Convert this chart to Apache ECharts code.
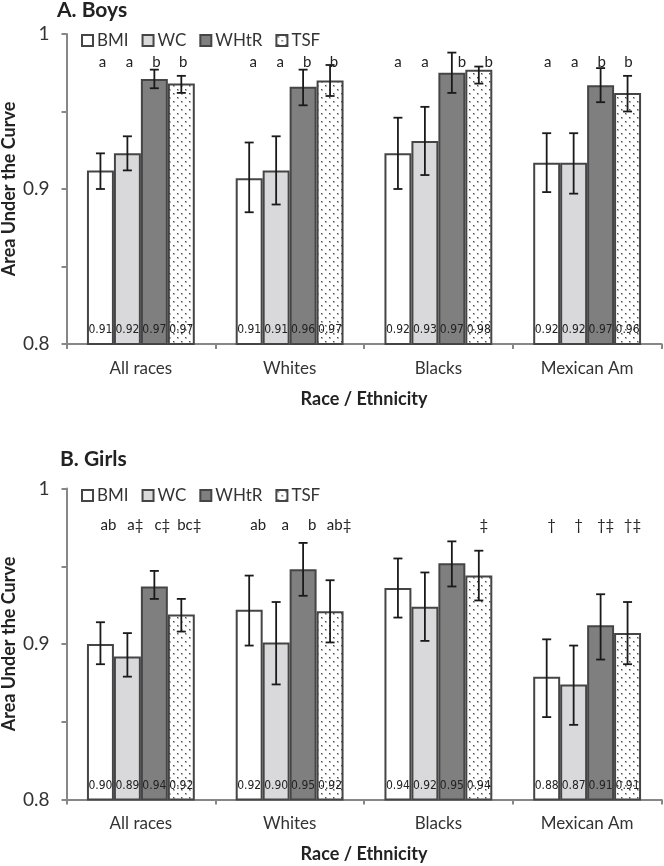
<!DOCTYPE html>
<html><head><meta charset="utf-8">
<script src="https://cdn.jsdelivr.net/npm/echarts@6/dist/echarts.min.js"></script>
<style>html,body{margin:0;padding:0;background:#fff}#c{width:664px;height:866px}</style>
</head><body><div id="c"></div>
<script>
// ---------- DATA ----------
const categories = ['All races', 'Whites', 'Blacks', 'Mexican Am'];
const measures = ['BMI', 'WC', 'WHtR', 'TSF'];
const yTickLabels = ['0.8', '0.9', '1'];

// A. Boys
const boysBMI  = [0.912, 0.907, 0.923, 0.917];
const boysWC   = [0.923, 0.912, 0.931, 0.917];
const boysWHtR = [0.971, 0.966, 0.975, 0.967];
const boysTSF  = [0.968, 0.970, 0.977, 0.962];
const boysBMILow  = [0.900, 0.885, 0.900, 0.898];
const boysBMIHigh = [0.923, 0.930, 0.946, 0.936];
const boysWCLow   = [0.912, 0.890, 0.909, 0.897];
const boysWCHigh  = [0.934, 0.934, 0.953, 0.936];
const boysWHtRLow  = [0.965, 0.954, 0.962, 0.956];
const boysWHtRHigh = [0.977, 0.977, 0.988, 0.978];
const boysTSFLow  = [0.962, 0.960, 0.968, 0.950];
const boysTSFHigh = [0.973, 0.980, 0.979, 0.973];
const boysBMILabels  = ['0.91', '0.91', '0.92', '0.92'];
const boysWCLabels   = ['0.92', '0.91', '0.93', '0.92'];
const boysWHtRLabels = ['0.97', '0.96', '0.97', '0.97'];
const boysTSFLabels  = ['0.97', '0.97', '0.98', '0.96'];
const boysBMILetters  = ['a', 'a', 'a', 'a'];
const boysWCLetters   = ['a', 'a', 'a', 'a'];
const boysWHtRLetters = ['b', 'b', 'b', 'b'];
const boysTSFLetters  = ['b', 'b', 'b', 'b'];

// B. Girls
const girlsBMI  = [0.900, 0.922, 0.936, 0.879];
const girlsWC   = [0.892, 0.901, 0.924, 0.874];
const girlsWHtR = [0.937, 0.948, 0.952, 0.912];
const girlsTSF  = [0.919, 0.921, 0.944, 0.907];
const girlsBMILow  = [0.887, 0.899, 0.917, 0.853];
const girlsBMIHigh = [0.914, 0.944, 0.955, 0.903];
const girlsWCLow   = [0.879, 0.874, 0.902, 0.848];
const girlsWCHigh  = [0.907, 0.927, 0.946, 0.899];
const girlsWHtRLow  = [0.929, 0.931, 0.937, 0.890];
const girlsWHtRHigh = [0.947, 0.965, 0.966, 0.932];
const girlsTSFLow  = [0.908, 0.901, 0.928, 0.887];
const girlsTSFHigh = [0.929, 0.941, 0.960, 0.927];
const girlsBMILabels  = ['0.90', '0.92', '0.94', '0.88'];
const girlsWCLabels   = ['0.89', '0.90', '0.92', '0.87'];
const girlsWHtRLabels = ['0.94', '0.95', '0.95', '0.91'];
const girlsTSFLabels  = ['0.92', '0.92', '0.94', '0.91'];
const girlsBMILetters  = ['ab', 'ab', '', '\u2020'];
const girlsWCLetters   = ['a\u2021', 'a', '', '\u2020'];
const girlsWHtRLetters = ['c\u2021', 'b', '', '\u2020\u2021'];
const girlsTSFLetters  = ['bc\u2021', 'ab\u2021', '\u2021', '\u2020\u2021'];

// ---------- STYLE ----------
const FONT = 'Lato, "Open Sans", sans-serif';
const NARROW = '"Liberation Sans Narrow", "DejaVu Sans Condensed", sans-serif';
const AXIS = '#878787';
const BORDER = '#454545';
const GAP = 0.275;

const pc = document.createElement('canvas');
pc.width = 8; pc.height = 8;
const ctx = pc.getContext('2d');
ctx.fillStyle = '#ffffff'; ctx.fillRect(0, 0, 8, 8);
[[1, 1], [5, 5]].forEach(([x, y]) => {
  ctx.fillStyle = '#b5b5b5'; ctx.fillRect(x, y, 2, 2);
  ctx.fillStyle = '#4a4a4a'; ctx.fillRect(x, y, 1, 1);
});
const dotPattern = { image: pc, repeat: 'repeat' };
const fills = ['#ffffff', '#d9d9db', '#7f7f7f', dotPattern];

const panels = [
  {
    values: [boysBMI, boysWC, boysWHtR, boysTSF],
    lows: [boysBMILow, boysWCLow, boysWHtRLow, boysTSFLow],
    highs: [boysBMIHigh, boysWCHigh, boysWHtRHigh, boysTSFHigh],
    labels: [boysBMILabels, boysWCLabels, boysWHtRLabels, boysTSFLabels],
    letters: [boysBMILetters, boysWCLetters, boysWHtRLetters, boysTSFLetters],
    letterLevel: 0.982,
    shift: (c, j) => (c === 2 && j >= 2) ? 10 : [2, 4, 0, 1][c]
  },
  {
    values: [girlsBMI, girlsWC, girlsWHtR, girlsTSF],
    lows: [girlsBMILow, girlsWCLow, girlsWHtRLow, girlsTSFLow],
    highs: [girlsBMIHigh, girlsWCHigh, girlsWHtRHigh, girlsTSFHigh],
    labels: [girlsBMILabels, girlsWCLabels, girlsWHtRLabels, girlsTSFLabels],
    letters: [girlsBMILetters, girlsWCLetters, girlsWHtRLetters, girlsTSFLetters],
    letterLevel: 0.9765,
    shift: (c, j) => [8, 9, 5, 5][c]
  }
];

const grids = [
  { left: 66.5, right: 2.5, top: 34, height: 310, containLabel: false, outerBoundsMode: 'none' },
  { left: 66.5, right: 2.5, top: 488.5, height: 311, containLabel: false, outerBoundsMode: 'none' }
];

const xAxes = [], yAxes = [], series = [], legends = [];
panels.forEach((p, g) => {
  xAxes.push({
    type: 'category', gridIndex: g, data: categories,
    axisLine: { lineStyle: { color: AXIS, width: 2 } },
    axisTick: { show: true, length: 5, lineStyle: { color: AXIS, width: 2 } },
    axisLabel: { fontFamily: FONT, fontSize: 17, color: '#333', margin: 16 },
    name: 'Race / Ethnicity', nameLocation: 'middle', nameGap: 46, nameMoveOverlap: false,
    nameTextStyle: { fontFamily: FONT, fontSize: 18, fontWeight: 'bold', color: '#222' }
  });
  yAxes.push({
    type: 'value', gridIndex: g, min: 0.8, max: 1, interval: 0.05,
    axisLine: { show: true, lineStyle: { color: AXIS, width: 2 } },
    axisTick: { show: true, length: 5, lineStyle: { color: AXIS, width: 2 } },
    splitLine: { show: false },
    axisLabel: {
      fontFamily: FONT, fontSize: 19, color: '#333', margin: 17,
      formatter: v => {
        const k = Math.round((v - 0.8) * 20);
        return k % 2 === 0 ? yTickLabels[k / 2] : '';
      }
    },
    name: 'Area Under the Curve', nameLocation: 'middle', nameGap: 48, nameMoveOverlap: false,
    nameTextStyle: { fontFamily: FONT, fontSize: 18, fontWeight: 'bold', color: '#222' }
  });
  measures.forEach((m, j) => {
    series.push({
      type: 'bar', name: m, xAxisIndex: g, yAxisIndex: g,
      data: p.values[j], barGap: 0, barCategoryGap: (GAP * 100) + '%',
      itemStyle: { color: fills[j], borderColor: BORDER, borderWidth: 2 },
      label: {
        show: true, position: 'insideBottom', distance: 9,
        fontFamily: NARROW, fontSize: 12, color: '#222',
        formatter: q => p.labels[j][q.dataIndex]
      },
      emphasis: { disabled: true }
    });
  });
  const errData = [];
  categories.forEach((c, ci) => measures.forEach((m, j) => {
    errData.push([ci, j, p.lows[j][ci], p.highs[j][ci]]);
  }));
  series.push({
    type: 'custom', xAxisIndex: g, yAxisIndex: g, z: 10,
    data: errData, encode: { x: 0, y: [2, 3] },
    renderItem: (params, api) => {
      const ci = api.value(0), j = api.value(1), lo = api.value(2), hi = api.value(3);
      const band = api.size([1, 0])[0];
      const bw = band * (1 - GAP) / 4;
      const base = api.coord([ci, lo]);
      const cx = base[0] - band * (1 - GAP) / 2 + bw * (j + 0.5);
      const yl = base[1], yh = api.coord([ci, hi])[1];
      const cap = 4.5;
      const st = { stroke: '#1a1a1a', lineWidth: 1.8 };
      const children = [
        { type: 'line', shape: { x1: cx, y1: yl, x2: cx, y2: yh }, style: st },
        { type: 'line', shape: { x1: cx - cap, y1: yl, x2: cx + cap, y2: yl }, style: st },
        { type: 'line', shape: { x1: cx - cap, y1: yh, x2: cx + cap, y2: yh }, style: st }
      ];
      const t = p.letters[j][ci];
      if (t) {
        children.push({
          type: 'text',
          style: {
            text: t, x: cx + p.shift(ci, j), y: api.coord([ci, p.letterLevel])[1],
            align: 'center', verticalAlign: 'middle',
            fontFamily: FONT, fontSize: 15, fill: '#222'
          }
        });
      }
      return { type: 'group', children };
    }
  });
  legends.push({
    data: measures, left: 81, top: g === 0 ? 32 : 487, padding: 0,
    itemWidth: 11, itemHeight: 11, itemGap: 13, icon: 'rect',
    textStyle: { fontFamily: FONT, fontSize: 17, color: '#333', padding: [0, 0, 0, -1] },
    selectedMode: false
  });
});

const chart = echarts.init(document.getElementById('c'), null, { renderer: 'canvas' });
chart.setOption({
  animation: false,
  backgroundColor: '#ffffff',
  title: [
    { text: 'A. Boys', left: 57, top: 0, padding: 0, textStyle: { fontFamily: FONT, fontSize: 21, fontWeight: 'bold', color: '#222' } },
    { text: 'B. Girls', left: 60, top: 449, padding: 0, textStyle: { fontFamily: FONT, fontSize: 21, fontWeight: 'bold', color: '#222' } }
  ],
  legend: legends,
  grid: grids,
  xAxis: xAxes,
  yAxis: yAxes,
  series: series
});
</script>
</body></html>
